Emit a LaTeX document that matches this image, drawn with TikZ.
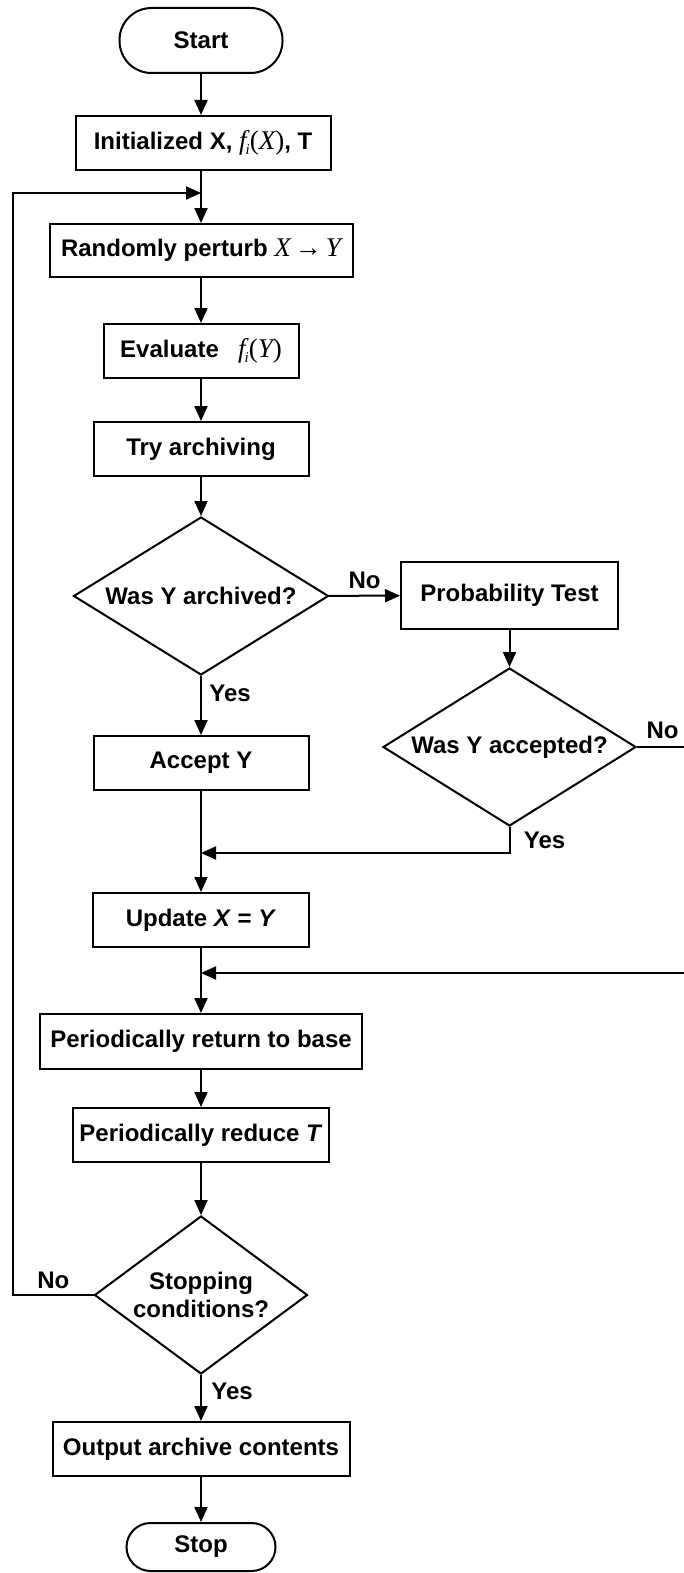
\documentclass[tikz,border=0pt]{standalone}
\usepackage{fontspec}
\setmainfont{Liberation Sans}
\newfontfamily\timesfont{Liberation Serif}
\usetikzlibrary{arrows.meta,shapes.geometric}

\newcommand{\tvar}[1]{{\timesfont\fontsize{27}{28}\selectfont\mdseries\itshape #1}}
\newcommand{\tarrow}{{\timesfont\fontsize{27}{28}\selectfont\mdseries→}}
\newcommand{\fval}[1]{{\timesfont\fontsize{27}{28}\selectfont\mdseries\itshape f\kern-1pt\raisebox{-5pt}{\fontsize{15}{15}\selectfont i}\upshape(\itshape #1\upshape)}}

\begin{document}
\begin{tikzpicture}[x=1pt,y=-1pt,line width=2pt,
		>={Triangle[length=15pt,width=13pt]},
		font=\fontsize{24}{28}\selectfont\bfseries,
		box/.style={draw,rectangle,inner sep=0pt,align=center},
		term/.style={draw,rectangle,rounded corners=24pt,inner sep=0pt},
		ask/.style={draw,diamond,inner sep=0pt,align=center}]
				\useasboundingbox (0,0) rectangle (683,1573);
				% cajas
				\node[term, minimum width=163pt, minimum height=65pt, rounded corners=32pt] (start) at (201,40.5) {Start};
				\node[box, minimum width=255pt, minimum height=54pt] (init) at (203,143) {Initialized X, \fval{X}, T};
				\node[box, minimum width=303pt, minimum height=53pt] (rand) at (201,250.5) {Randomly perturb \tvar{X}\,\tarrow\,\tvar{Y}};
				\node[box, minimum width=195pt, minimum height=54pt] (eval) at (201,351) {Evaluate\hspace{0.8em}\fval{Y}};
				\node[box, minimum width=215pt, minimum height=54pt] (try) at (201,449) {Try archiving};
				\node[ask, minimum width=255pt, minimum height=158pt, shape aspect=1.6] (arch) at (201,596) {Was Y archived?};
				\node[box, minimum width=217pt, minimum height=67pt] (prob) at (509.5,595.5) {Probability Test};
				\node[ask, minimum width=253pt, minimum height=158pt, shape aspect=1.6] (accq) at (509.5,747) {Was Y accepted?};
				\node[box, minimum width=215pt, minimum height=54pt] (accept) at (201,763) {Accept Y};
				\node[box, minimum width=216pt, minimum height=54pt] (update) at (201,920) {Update \textit{X} = \textit{Y}};
				\node[box, minimum width=322pt, minimum height=55pt] (back) at (201,1041.5) {Periodically return to base};
				\node[box, minimum width=256pt, minimum height=54pt] (reduce) at (201,1135) {Periodically reduce \textit{T}};
				\node[ask, minimum width=213pt, minimum height=158pt, shape aspect=1.35] (stopq) at (201,1295) {Stopping\\conditions?};
				\node[box, minimum width=297pt, minimum height=54pt] (output) at (201,1449) {Output archive contents};
				\node[term, minimum width=149pt, minimum height=48pt] (stop) at (201,1547) {Stop};
				% puntos de union
				\coordinate (loopin) at (201,193);
				\coordinate (midin) at (201,853);
				\coordinate (backin) at (201,973);
				\coordinate (rail) at (13,193);
				\coordinate (rim) at (688,973);
				% flechas
				\draw[->] (start) -- (start |- init.north);
				\draw (start |- init.south) -- (loopin);
				\draw[->] (loopin) -- (rand);
				\draw[->] (rand) -- (eval);
				\draw[->] (eval) -- (try);
				\draw[->] (try) -- (arch);
				\draw[->] (arch) -- node[above=3pt]{No} (prob);
				\draw[->] (arch) -- node[pos=0.3, right=4pt]{Yes} (accept);
				\draw[->] (prob) -- (accq);
				\draw[->] (accq.south) |- node[pos=0.25, right=10pt]{Yes} (midin);
				\draw[->] (accept) -- (update);
				\draw[->] (accq.east) -- node[above=4pt]{No} (rim |- accq.east) -- (rim) -- (backin);
				\draw[->] (update) -- (back);
				\draw[->] (back) -- (reduce);
				\draw[->] (reduce) -- (stopq);
				%vuelta
				\draw[->] (stopq.west) -- node[above=2pt]{No} (rail |- stopq.west) -- (rail) -- (loopin);
				\draw[->] (stopq) -- node[pos=0.35, right=6pt]{Yes} (output);
				\draw[->] (output) -- (stop);
\end{tikzpicture}
\end{document}
